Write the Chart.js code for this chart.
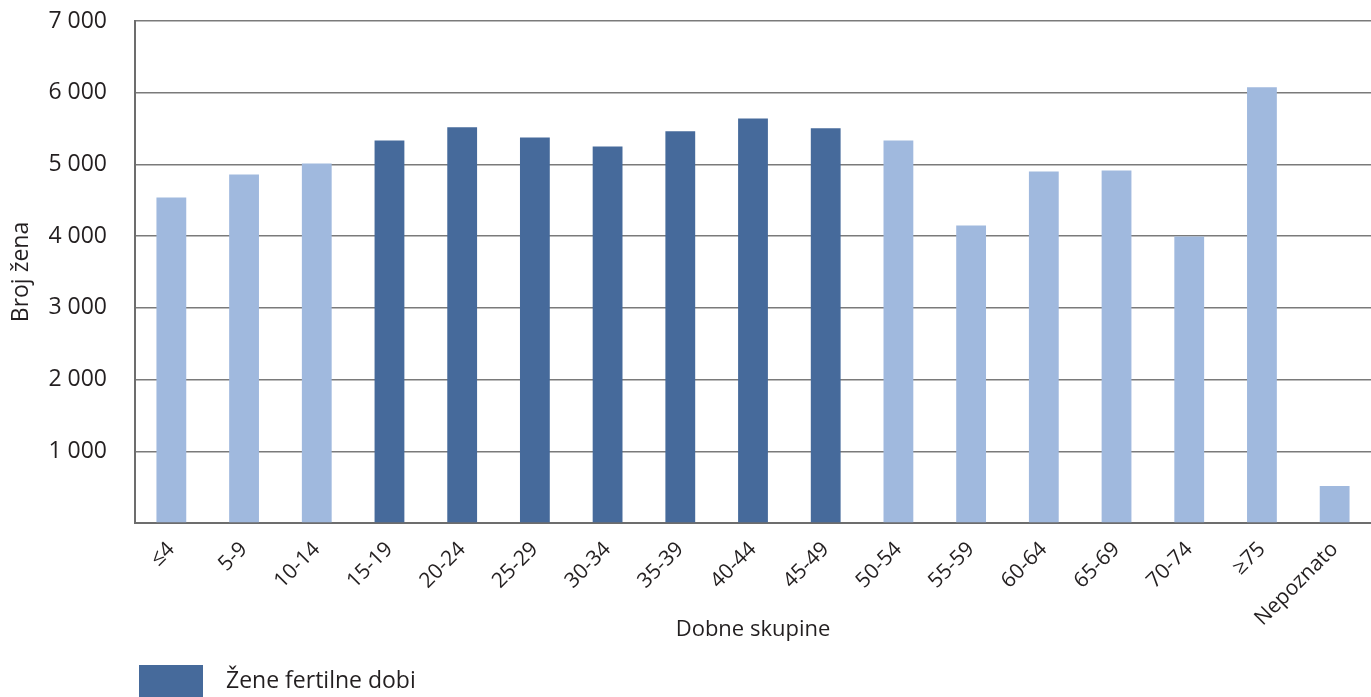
<!DOCTYPE html>
<html>
<head>
<meta charset="utf-8">
<script src="https://cdn.jsdelivr.net/npm/chart.js@4.4.1/dist/chart.umd.min.js"></script>
<style>
    html, body { margin: 0; padding: 0; background: #fff; }
    #wrap { width: 1371px; height: 697px; }
</style>
</head>
<body>
<div id="wrap"><canvas id="chart" width="1371" height="697"></canvas></div>
<script>
// Age groups and number of women per group
const categories = ['≤4', '5-9', '10-14', '15-19', '20-24', '25-29', '30-34', '35-39', '40-44',
    '45-49', '50-54', '55-59', '60-64', '65-69', '70-74', '≥75', 'Nepoznato'];

// fertile age (15-49) shown in dark blue, the rest in light blue
const fertileValues = [null, null, null, 5335, 5517, 5377, 5251, 5461, 5642, 5503,
    null, null, null, null, null, null, null];
const otherValues = [4540, 4860, 5014, null, null, null, null, null, null, null,
    5335, 4148, 4902, 4916, 3994, 6075, 517];

const yTicks = [0, 1000, 2000, 3000, 4000, 5000, 6000, 7000];

const DARK = '#466a9b';
const LIGHT = '#a0b9de';
const FONT = '"Open Sans", "Noto Sans", sans-serif';
const TEXT = '#231f20';

function formatThousands(v) {
    if (v === 0) return '';
    const s = String(v);
    return s.slice(0, s.length - 3) + ' ' + s.slice(-3);
}

// move the legend so it starts under the plot area, like the original
const legendShift = {
    id: 'legendShift',
    afterLayout(chart) {
        const lg = chart.legend;
        if (!lg) return;
        const w = lg.right - lg.left;
        lg.left = 135;
        lg.right = 135 + w;
        lg.top = 661;
        lg.bottom = 661 + (lg.height || 40);
    }
};

new Chart(document.getElementById('chart'), {
    type: 'bar',
    data: {
        labels: categories,
        datasets: [
            { label: 'Žene fertilne dobi', data: fertileValues, backgroundColor: DARK,
              barPercentage: 0.41, categoryPercentage: 1.0, stack: 's' },
            { label: 'Ostale', data: otherValues, backgroundColor: LIGHT,
              barPercentage: 0.41, categoryPercentage: 1.0, stack: 's' }
        ]
    },
    plugins: [legendShift],
    options: {
        responsive: false,
        animation: false,
        layout: { padding: { top: 21, right: 0, left: 0, bottom: 0 } },
        plugins: {
            tooltip: { enabled: false },
            legend: {
                position: 'bottom',
                align: 'start',
                labels: {
                    filter: function(item) { return item.datasetIndex === 0; },
                    generateLabels: function(chart) {
                        const items = Chart.defaults.plugins.legend.labels.generateLabels(chart);
                        items.forEach(function(it) { it.text = '\u2002' + it.text; });
                        return items;
                    },
                    boxWidth: 64,
                    boxHeight: 32,
                    padding: 4,
                    color: TEXT,
                    font: { family: FONT, size: 23 }
                }
            }
        },
        scales: {
            x: {
                stacked: true,
                afterFit: function(axis) { axis.height = 128; },
                grid: { display: false, drawTicks: false },
                border: { color: '#6d6d6d', width: 2 },
                ticks: {
                    color: TEXT,
                    font: { family: FONT, size: 21 },
                    minRotation: 45,
                    maxRotation: 45,
                    padding: 14,
                    autoSkip: false
                },
                title: {
                    display: true,
                    text: 'Dobne skupine',
                    color: TEXT,
                    font: { family: FONT, size: 22 },
                    padding: { top: 6, bottom: 8 }
                }
            },
            y: {
                stacked: true,
                min: 0,
                max: 7000,
                afterBuildTicks: function(axis) {
                    axis.ticks = yTicks.map(v => ({ value: v }));
                },
                afterFit: function(axis) { axis.width = 135; },
                grid: {
                    color: '#7a7a7a',
                    lineWidth: 1.5,
                    drawTicks: true,
                    tickLength: 28,
                    tickColor: 'rgba(0,0,0,0)'
                },
                border: { color: '#6d6d6d', width: 2 },
                ticks: {
                    color: TEXT,
                    font: { family: FONT, size: 23 },
                    padding: 0,
                    callback: function(value) { return formatThousands(value); }
                },
                title: {
                    display: true,
                    text: 'Broj žena',
                    color: TEXT,
                    font: { family: FONT, size: 23 },
                    padding: { top: 8, bottom: 0 }
                }
            }
        }
    }
});
</script>
</body>
</html>
